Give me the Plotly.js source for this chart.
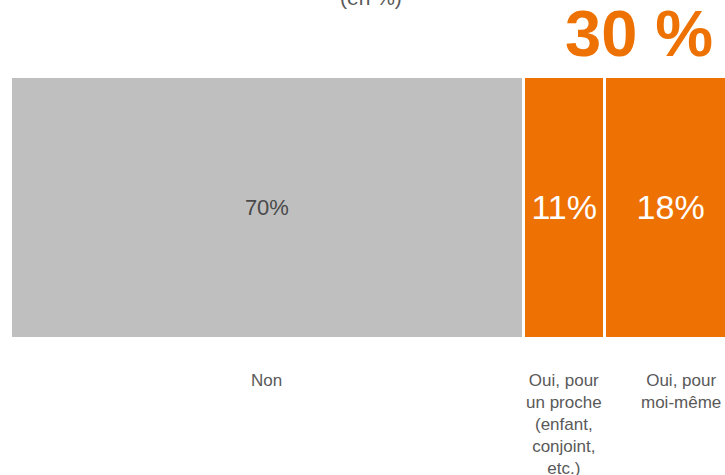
<!DOCTYPE html>
<html>
<head>
<meta charset="utf-8">
<script src="https://cdn.plot.ly/plotly-3.0.1.min.js"></script>
<style>html,body{margin:0;padding:0;background:#fff;}#chart{width:725px;height:475px;}</style>
</head>
<body>
<div id="chart"></div>
<script>
// Data
var categories = ["Non", "Oui, pour<br>un proche<br>(enfant,<br>conjoint,<br>etc.)", "Oui, pour<br>moi-même"];
var values = [70, 11, 18];
var valueLabels = ["70%", "11%", "18%"];
var colors = ["#BFBFBF", "#EE7203", "#EE7203"];
var textColors = ["#4a4a4a", "#ffffff", "#ffffff"];
var textSizes = [22, 34, 34];
var totalOui = "30 %";
var subtitle = "(en %)";

var traces = [];
var annotations = [];
var cum = 0;
for (var i = 0; i < values.length; i++) {
  traces.push({
    type: "bar",
    orientation: "h",
    x: [values[i]],
    y: ["q"],
    name: categories[i],
    marker: {color: colors[i], line: {color: "#ffffff", width: 3}},
    text: [valueLabels[i]],
    textposition: "inside",
    insidetextanchor: "middle",
    constraintext: "none",
    textfont: {color: textColors[i], size: textSizes[i], family: "Liberation Sans, Arial, sans-serif"},
    hoverinfo: "none",
    showlegend: false
  });
  var center = cum + values[i] / 2;
  annotations.push({
    x: center, xref: "x",
    y: -0.12, yref: "paper",
    yanchor: "top", xanchor: "center",
    text: categories[i],
    showarrow: false,
    xshift: i === 2 ? 10 : 0,
    font: {size: 17, color: "#595959", family: "Liberation Sans, Arial, sans-serif"}
  });
  cum += values[i];
}

annotations.push({
  x: values[0] + (values[1] + values[2]) / 2, xref: "x",
  y: 1, yref: "paper", yanchor: "bottom", xanchor: "center",
  yshift: 4, xshift: 9,
  text: "<b>" + totalOui + "</b>",
  showarrow: false,
  font: {size: 65, color: "#EE7203", family: "Liberation Sans, Arial, sans-serif"}
});
annotations.push({
  x: 0.505, xref: "paper", xanchor: "center",
  y: 1, yref: "paper", yanchor: "bottom",
  yshift: 65,
  text: subtitle,
  showarrow: false,
  font: {size: 21, color: "#595959", family: "Liberation Sans, Arial, sans-serif"}
});

var layout = {
  width: 725, height: 475,
  margin: {l: 10, r: 0, t: 76, b: 137, pad: 0},
  barmode: "stack",
  bargap: 0,
  paper_bgcolor: "#ffffff",
  plot_bgcolor: "#ffffff",
  xaxis: {range: [0, 97.41], visible: false, fixedrange: true},
  yaxis: {range: [-0.5, 0.5], visible: false, fixedrange: true},
  annotations: annotations,
  showlegend: false
};

Plotly.newPlot("chart", traces, layout, {displayModeBar: false, staticPlot: true});
</script>
</body>
</html>
